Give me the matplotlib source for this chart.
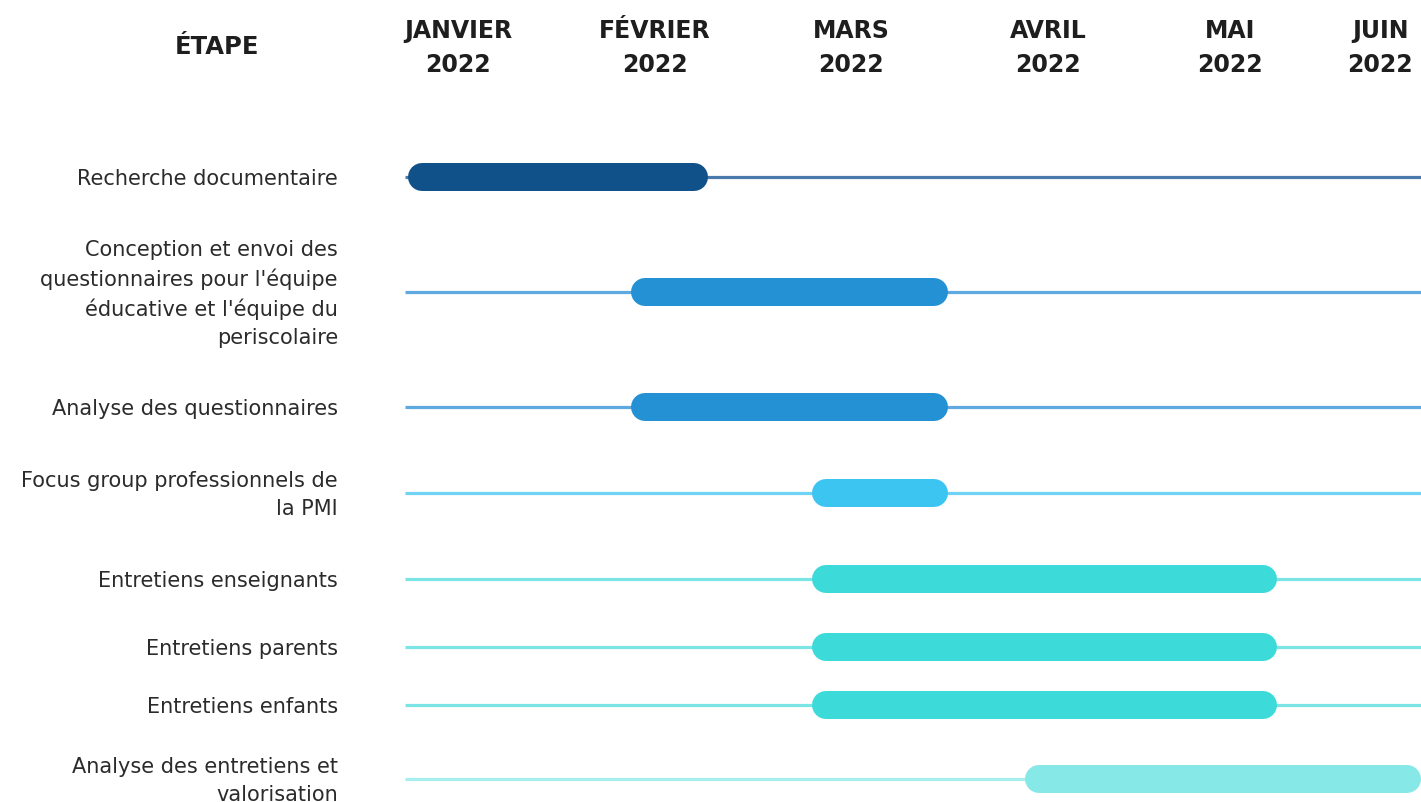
import matplotlib
matplotlib.use("Agg")
import matplotlib.pyplot as plt

# months counted from the start of January 2022 (0 = 1 Jan)
etapes = [
    "Recherche documentaire",
    "Conception et envoi des\nquestionnaires pour l'équipe\néducative et l'équipe du\nperiscolaire",
    "Analyse des questionnaires",
    "Focus group professionnels de\nla PMI",
    "Entretiens enseignants",
    "Entretiens parents",
    "Entretiens enfants",
    "Analyse des entretiens et\nvalorisation",
]
debut = [0.25, 1.38, 1.38, 2.30, 2.30, 2.30, 2.30, 3.38]
fin = [1.77, 2.99, 2.99, 2.99, 4.66, 4.66, 4.66, 5.39]
mois = ["JANVIER\n2022", "FÉVRIER\n2022", "MARS\n2022", "AVRIL\n2022", "MAI\n2022", "JUIN\n2022"]

bar_colors = ["#115189", "#2391d3", "#2391d3", "#3cc5f0", "#3ddada", "#3ddada", "#3ddada", "#86e9e7"]
line_colors = ["#4a7aab", "#5ea9e0", "#5ea9e0", "#70d3f3", "#7be4e4", "#7be4e4", "#7be4e4", "#a8eeee"]

# layout (pixels)
W, H = 1421, 803
PX0, PXM = 359, 197          # pixel of 1 Jan, pixels per month
row_y = [178, 293, 408, 494, 580, 648, 706, 780]
head_x = [0.503, 1.503, 2.497, 3.497, 4.421, 5.183]
bar_px = 28

fig = plt.figure(figsize=(W / 100, H / 100), dpi=100)
ax = fig.add_axes([0, 0, 1, 1])
ax.set_xlim(-PX0 / PXM, (W - PX0) / PXM)
ax.set_ylim(H, 0)
ax.axis("off")

line_start = (405 - PX0) / PXM
inset = (bar_px / 2) / PXM
for i, lab in enumerate(etapes):
    y = row_y[i]
    ax.plot([line_start, (W - PX0) / PXM + 1], [y, y], color=line_colors[i], lw=2.3,
            solid_capstyle="butt", zorder=1)
    ax.plot([debut[i] + inset, fin[i] - inset], [y, y], color=bar_colors[i],
            lw=bar_px * 0.72, solid_capstyle="round", zorder=2)
    ax.text((338 - PX0) / PXM, y + 1, lab, ha="right", va="center", fontsize=15,
            family="DejaVu Sans", color="#2b2b2b", linespacing=1.5)

for x, m in zip(head_x, mois):
    ax.text(x, 48, m, ha="center", va="center", fontsize=17, fontweight="bold",
            family="DejaVu Sans", color="#1e1e1e", linespacing=1.55)
ax.text((217 - PX0) / PXM, 47, "ÉTAPE", ha="center", va="center", fontsize=17.5,
        fontweight="bold", family="DejaVu Sans", color="#1e1e1e")

fig.savefig("out.png", dpi=100, facecolor="white")
